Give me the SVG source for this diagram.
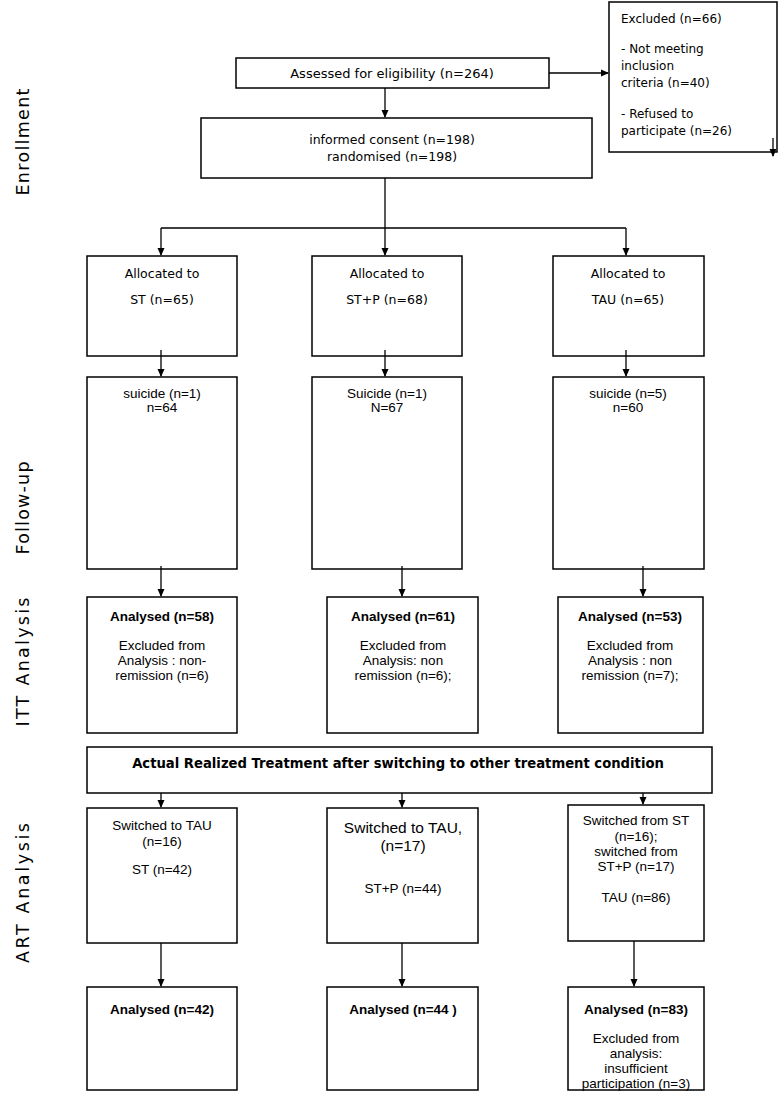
<svg xmlns="http://www.w3.org/2000/svg" width="779" height="1093" viewBox="0 0 779 1093">
<defs>
<marker id="ah" markerWidth="8" markerHeight="8" refX="7" refY="4" orient="auto" markerUnits="userSpaceOnUse">
<path d="M0,0.5 L8,4 L0,7.5 Z" fill="#000"/>
</marker>
<style>
rect{fill:#fff;stroke:#000;stroke-width:1.5}
.c line,.c path{stroke:#000;stroke-width:1.3;fill:none}
.v{font-family:"DejaVu Sans",Verdana,sans-serif;font-size:12px;fill:#000}
.vc{font-family:"DejaVu Sans",Verdana,sans-serif;font-size:12.5px;fill:#000;text-anchor:middle}
.a{font-family:"Liberation Sans",Arial,sans-serif;font-size:13.5px;fill:#000;text-anchor:middle}
.b{font-weight:bold}
.vb{font-family:"DejaVu Sans",Verdana,sans-serif;font-size:13.2px;font-weight:bold;fill:#000;text-anchor:middle}
.side{font-family:"DejaVu Sans",Verdana,sans-serif;font-size:17.5px;fill:#000;text-anchor:middle}
</style>
</defs>
<rect width="779" height="1093" style="fill:#fff;stroke:none"/>

<g id="labels">
<text class="side" transform="translate(29,142) rotate(-90)" textLength="107" lengthAdjust="spacing">Enrollment</text>
<text class="side" transform="translate(29,508) rotate(-90)" textLength="93" lengthAdjust="spacing">Follow-up</text>
<text class="side" transform="translate(29,662) rotate(-90)" textLength="129" lengthAdjust="spacing">ITT Analysis</text>
<text class="side" transform="translate(29,893) rotate(-90)" textLength="140" lengthAdjust="spacing">ART Analysis</text>
</g>

<g id="assessed">
<rect x="236" y="58" width="313" height="30"/>
<text class="v" x="392" y="78" text-anchor="middle" style="font-size:13px">Assessed for eligibility (n=264)</text>
</g>
<g id="excluded">
<rect x="609" y="2" width="168" height="150"/>
<text class="v" x="621" y="23">Excluded (n=66)</text>
<text class="v" x="621" y="53">- Not meeting</text>
<text class="v" x="621" y="70">inclusion</text>
<text class="v" x="621" y="87">criteria (n=40)</text>
<text class="v" x="621" y="118">- Refused to</text>
<text class="v" x="621" y="135">participate (n=26)</text>
</g>
<g id="consent">
<rect x="201" y="118" width="391" height="60"/>
<text class="v" x="392" y="144" text-anchor="middle" style="font-size:12.5px">informed consent (n=198)</text>
<text class="v" x="392" y="161" text-anchor="middle" style="font-size:12.5px">randomised (n=198)</text>
</g>

<g id="alloc_st">
<rect x="87" y="256" width="150" height="100"/>
<text class="vc" x="162" y="278">Allocated to</text>
<text class="vc" x="162" y="304">ST (n=65)</text>
</g>
<g id="alloc_stp">
<rect x="312" y="256" width="150" height="100"/>
<text class="vc" x="387" y="278">Allocated to</text>
<text class="vc" x="387" y="304">ST+P (n=68)</text>
</g>
<g id="alloc_tau">
<rect x="553" y="256" width="151" height="100"/>
<text class="vc" x="628" y="278">Allocated to</text>
<text class="vc" x="628" y="304">TAU (n=65)</text>
</g>

<g id="fu_st">
<rect x="87" y="377" width="150" height="192"/>
<text class="a" x="162" y="398">suicide (n=1)</text>
<text class="a" x="162" y="412">n=64</text>
</g>
<g id="fu_stp">
<rect x="312" y="377" width="150" height="192"/>
<text class="a" x="387" y="398">Suicide (n=1)</text>
<text class="a" x="387" y="412">N=67</text>
</g>
<g id="fu_tau">
<rect x="553" y="377" width="151" height="192"/>
<text class="a" x="628" y="398">suicide (n=5)</text>
<text class="a" x="628" y="412">n=60</text>
</g>

<g id="itt_st">
<rect x="87" y="597" width="150" height="136"/>
<text class="a b" x="162" y="621">Analysed (n=58)</text>
<text class="a" x="162" y="650">Excluded from</text>
<text class="a" x="162" y="665">Analysis : non-</text>
<text class="a" x="162" y="680">remission (n=6)</text>
</g>
<g id="itt_stp">
<rect x="327" y="597" width="151" height="136"/>
<text class="a b" x="403" y="621">Analysed (n=61)</text>
<text class="a" x="403" y="650">Excluded from</text>
<text class="a" x="403" y="665">Analysis: non</text>
<text class="a" x="403" y="680">remission (n=6);</text>
</g>
<g id="itt_tau">
<rect x="558" y="597" width="145" height="136"/>
<text class="a b" x="630" y="621">Analysed (n=53)</text>
<text class="a" x="630" y="650">Excluded from</text>
<text class="a" x="630" y="665">Analysis : non</text>
<text class="a" x="630" y="680">remission (n=7);</text>
</g>

<g id="actual">
<rect x="87" y="747" width="625" height="46"/>
<text class="vb" x="398" y="768">Actual Realized Treatment after switching to other treatment condition</text>
</g>

<g id="art_st">
<rect x="87" y="808" width="150" height="135"/>
<text class="a" x="162" y="830">Switched to TAU</text>
<text class="a" x="162" y="846">(n=16)</text>
<text class="a" x="162" y="874">ST (n=42)</text>
</g>
<g id="art_stp">
<rect x="327" y="808" width="151" height="135"/>
<text class="a" x="403" y="833" style="font-size:15.5px">Switched to TAU,</text>
<text class="a" x="403" y="851" style="font-size:15.5px">(n=17)</text>
<text class="a" x="403" y="893">ST+P  (n=44)</text>
</g>
<g id="art_tau">
<rect x="568" y="805" width="136" height="136"/>
<text class="a" x="636" y="825">Switched from ST</text>
<text class="a" x="636" y="841">(n=16);</text>
<text class="a" x="636" y="856">switched from</text>
<text class="a" x="636" y="871">ST+P  (n=17)</text>
<text class="a" x="636" y="902">TAU (n=86)</text>
</g>

<g id="final_st">
<rect x="87" y="987" width="150" height="103"/>
<text class="a b" x="162" y="1014">Analysed (n=42)</text>
</g>
<g id="final_stp">
<rect x="327" y="987" width="151" height="103"/>
<text class="a b" x="403" y="1014">Analysed (n=44 )</text>
</g>
<g id="final_tau">
<rect x="568" y="987" width="136" height="103"/>
<text class="a b" x="636" y="1014">Analysed (n=83)</text>
<text class="a" x="636" y="1043">Excluded from</text>
<text class="a" x="636" y="1058">analysis:</text>
<text class="a" x="636" y="1073">insufficient</text>
<text class="a" x="636" y="1088">participation (n=3)</text>
</g>

<g id="connectors" class="c">
<line x1="549" y1="73" x2="608" y2="73" marker-end="url(#ah)"/>
<line x1="773" y1="138" x2="773" y2="156" marker-end="url(#ah)"/>
<line x1="385" y1="88" x2="385" y2="117" marker-end="url(#ah)"/>
<path d="M385,178 V228 M161,228 H626"/>
<line x1="161" y1="228" x2="161" y2="255" marker-end="url(#ah)"/>
<line x1="385" y1="228" x2="385" y2="255" marker-end="url(#ah)"/>
<line x1="626" y1="228" x2="626" y2="255" marker-end="url(#ah)"/>
<line x1="161" y1="350" x2="161" y2="376" marker-end="url(#ah)"/>
<line x1="385" y1="350" x2="385" y2="376" marker-end="url(#ah)"/>
<line x1="626" y1="350" x2="626" y2="376" marker-end="url(#ah)"/>
<line x1="161" y1="566" x2="161" y2="596" marker-end="url(#ah)"/>
<line x1="402" y1="566" x2="402" y2="596" marker-end="url(#ah)"/>
<line x1="643" y1="566" x2="643" y2="596" marker-end="url(#ah)"/>
<line x1="161" y1="793" x2="161" y2="807" marker-end="url(#ah)"/>
<line x1="402" y1="793" x2="402" y2="807" marker-end="url(#ah)"/>
<line x1="643" y1="793" x2="643" y2="804" marker-end="url(#ah)"/>
<line x1="161" y1="943" x2="161" y2="986" marker-end="url(#ah)"/>
<line x1="402" y1="943" x2="402" y2="986" marker-end="url(#ah)"/>
<line x1="634" y1="941" x2="634" y2="986" marker-end="url(#ah)"/>
</g>
</svg>
